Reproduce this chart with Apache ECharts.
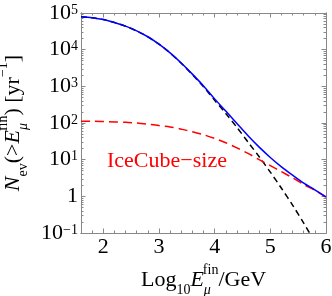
<!DOCTYPE html>
<html><head><meta charset="utf-8">
<script src="https://cdn.jsdelivr.net/npm/echarts@6/dist/echarts.min.js"></script>
<style>html,body{margin:0;padding:0;background:#fff}#c{width:332px;height:296px}</style>
</head><body><div id="c"></div>
<script>
// log10(E_mu^fin / GeV)
const xValues = [1.6, 1.8, 2.0, 2.2, 2.4, 2.6, 2.8, 3.0, 3.2, 3.4, 3.6, 3.8, 4.0, 4.2, 4.4, 4.6, 4.8, 5.0, 5.2, 5.4, 5.6, 5.8, 6.0];
// blue solid: total N_ev(>E)
const totalEvents = [79500, 74200, 66200, 55100, 43800, 32500, 22500, 14200, 8210, 4340, 2150, 1025, 455, 211, 96.9, 45.0, 22.0, 11.5, 6.36, 3.78, 2.29, 1.51, 0.97];
// black dashed
const baseEvents = [79400, 74100, 66100, 55000, 43700, 32400, 22400, 14100, 8130, 4270, 2090, 977, 417, 182, 75.9, 30.2, 12.0, 4.57, 1.66, 0.575, 0.186, 0.056, null];
// red dashed: IceCube-size
const iceCubeEvents = [112, 112, 110, 107, 105, 100, 93, 85, 78, 68, 58, 48, 38, 29, 21, 14.8, 10.0, 6.9, 4.7, 3.2, 2.1, 1.45, 0.95];

const xTicks = [2, 3, 4, 5, 6];
const xTickLabels = ['2', '3', '4', '5', '6'];
const xMinorTicks = [1.8, 2.2, 2.4, 2.6, 2.8, 3.2, 3.4, 3.6, 3.8, 4.2, 4.4, 4.6, 4.8, 5.2, 5.4, 5.6, 5.8];
const yTicks = [0.1, 1, 10, 100, 1000, 10000, 100000];
const yTickLabels = ['10{sup|\u22121}', '1', '10{sup|1}', '10{sup|2}', '10{sup|3}', '10{sup|4}', '10{sup|5}'];
const yMinorTicks = [0.2, 0.3, 0.4, 0.5, 0.6, 0.7, 0.8, 0.9,
  2, 3, 4, 5, 6, 7, 8, 9,
  20, 30, 40, 50, 60, 70, 80, 90,
  200, 300, 400, 500, 600, 700, 800, 900,
  2000, 3000, 4000, 5000, 6000, 7000, 8000, 9000,
  20000, 30000, 40000, 50000, 60000, 70000, 80000, 90000];

const FONT = 'Liberation Serif';
const FRAME = '#888888';

function pair(ys) { return xValues.map((x, i) => [x, ys[i]]); }
function yLabel(v) {
  const i = yTicks.findIndex(t => Math.abs(Math.log10(t) - Math.log10(v)) < 1e-6);
  return i >= 0 ? yTickLabels[i] : '';
}
function xLabel(v) {
  const i = xTicks.findIndex(t => Math.abs(t - v) < 1e-6);
  return i >= 0 ? xTickLabels[i] : '';
}

function xAxisDef(pos, ticks, len, withLabels) {
  return {
    type: 'value', min: 1.6, max: 6, position: pos,
    axisLine: { show: true, onZero: false, lineStyle: { color: FRAME, width: 1 } },
    axisTick: { show: true, inside: true, length: len, customValues: ticks, lineStyle: { color: FRAME, width: 1 } },
    axisLabel: withLabels ? {
      show: true, customValues: xTicks, formatter: xLabel, margin: 3,
      fontFamily: FONT, fontSize: 22, color: '#000'
    } : { show: false },
    splitLine: { show: false }
  };
}
function yAxisDef(pos, ticks, len, withLabels) {
  return {
    type: 'log', logBase: 10, min: 0.1, max: 100000, position: pos,
    axisLine: { show: true, onZero: false, lineStyle: { color: FRAME, width: 1 } },
    axisTick: { show: true, inside: true, length: len, customValues: ticks, lineStyle: { color: FRAME, width: 1 } },
    axisLabel: withLabels ? {
      show: true, customValues: yTicks, formatter: yLabel, margin: 3,
      fontFamily: FONT, fontSize: 22, color: '#000', lineHeight: 20,
      rich: { sup: { fontFamily: FONT, fontSize: 14, color: '#000', verticalAlign: 'top' } }
    } : { show: false },
    splitLine: { show: false }
  };
}

const xMain = xAxisDef('bottom', xTicks, 4.5, true);
xMain.name = 'Log{sub|10}{i|E}{mu|\u03bc}{fin|fin}/GeV';
xMain.nameLocation = 'middle';
xMain.nameGap = 30;
xMain.nameTextStyle = {
  fontFamily: FONT, fontSize: 22, color: '#000', lineHeight: 34,
  rich: {
    sub: { fontFamily: FONT, fontSize: 14, color: '#000', verticalAlign: 'bottom' },
    i: { fontFamily: FONT, fontSize: 22, fontStyle: 'italic', color: '#000' },
    mu: { fontFamily: FONT, fontSize: 14, fontStyle: 'italic', color: '#000', verticalAlign: 'bottom' },
    fin: { fontFamily: FONT, fontSize: 14, color: '#000', verticalAlign: 'top', padding: [0, 0, 0, -8] }
  }
};

const yMain = yAxisDef('left', yTicks, 4.5, true);
yMain.name = '{i|N}{sub|ev}(>{i|E}{mu|\u03bc}{fin|fin}) [yr{sup|\u22121}]';
yMain.nameLocation = 'middle';
yMain.nameGap = 48;
yMain.nameTextStyle = {
  fontFamily: FONT, fontSize: 22, color: '#000', lineHeight: 34,
  rich: {
    sub: { fontFamily: FONT, fontSize: 14, color: '#000', verticalAlign: 'bottom' },
    sup: { fontFamily: FONT, fontSize: 14, color: '#000', verticalAlign: 'top' },
    i: { fontFamily: FONT, fontSize: 22, fontStyle: 'italic', color: '#000' },
    mu: { fontFamily: FONT, fontSize: 14, fontStyle: 'italic', color: '#000', verticalAlign: 'bottom' },
    fin: { fontFamily: FONT, fontSize: 14, color: '#000', verticalAlign: 'top', padding: [0, 0, 0, -8] }
  }
};

const chart = echarts.init(document.getElementById('c'), null, { renderer: 'canvas' });
chart.setOption({
  animation: false,
  backgroundColor: '#fff',
  grid: { left: 81, right: 6, top: 13, bottom: 63, containLabel: false, outerBoundsMode: 'none' },
  xAxis: [
    xMain,
    xAxisDef('bottom', xMinorTicks, 2.5, false),
    xAxisDef('top', xTicks, 4.5, false),
    xAxisDef('top', xMinorTicks, 2.5, false)
  ],
  yAxis: [
    yMain,
    yAxisDef('left', yMinorTicks, 2.5, false),
    yAxisDef('right', yTicks, 4.5, false),
    yAxisDef('right', yMinorTicks, 2.5, false)
  ],
  graphic: [{
    type: 'text', x: 107, y: 161, silent: true,
    style: { text: 'IceCube\u2212size', fill: '#ff0000', font: '22px "Liberation Serif"', align: 'left', verticalAlign: 'middle' }
  }],
  series: [
    { name: 'Base', type: 'line', xAxisIndex: 0, yAxisIndex: 0, data: pair(baseEvents), showSymbol: false, smooth: 0.3, clip: true,
      lineStyle: { color: '#000000', width: 1.5, type: [6, 4] }, z: 2 },
    { name: 'IceCube\u2212size', type: 'line', xAxisIndex: 0, yAxisIndex: 0, data: pair(iceCubeEvents), showSymbol: false, smooth: 0.3, clip: true,
      lineStyle: { color: '#ff0000', width: 1.5, type: [9, 5] }, z: 3 },
    { name: 'Total', type: 'line', xAxisIndex: 0, yAxisIndex: 0, data: pair(totalEvents), showSymbol: false, smooth: 0.3, clip: true,
      lineStyle: { color: '#0000ff', width: 1.5 }, z: 4 }
  ]
});
</script>
</body></html>
